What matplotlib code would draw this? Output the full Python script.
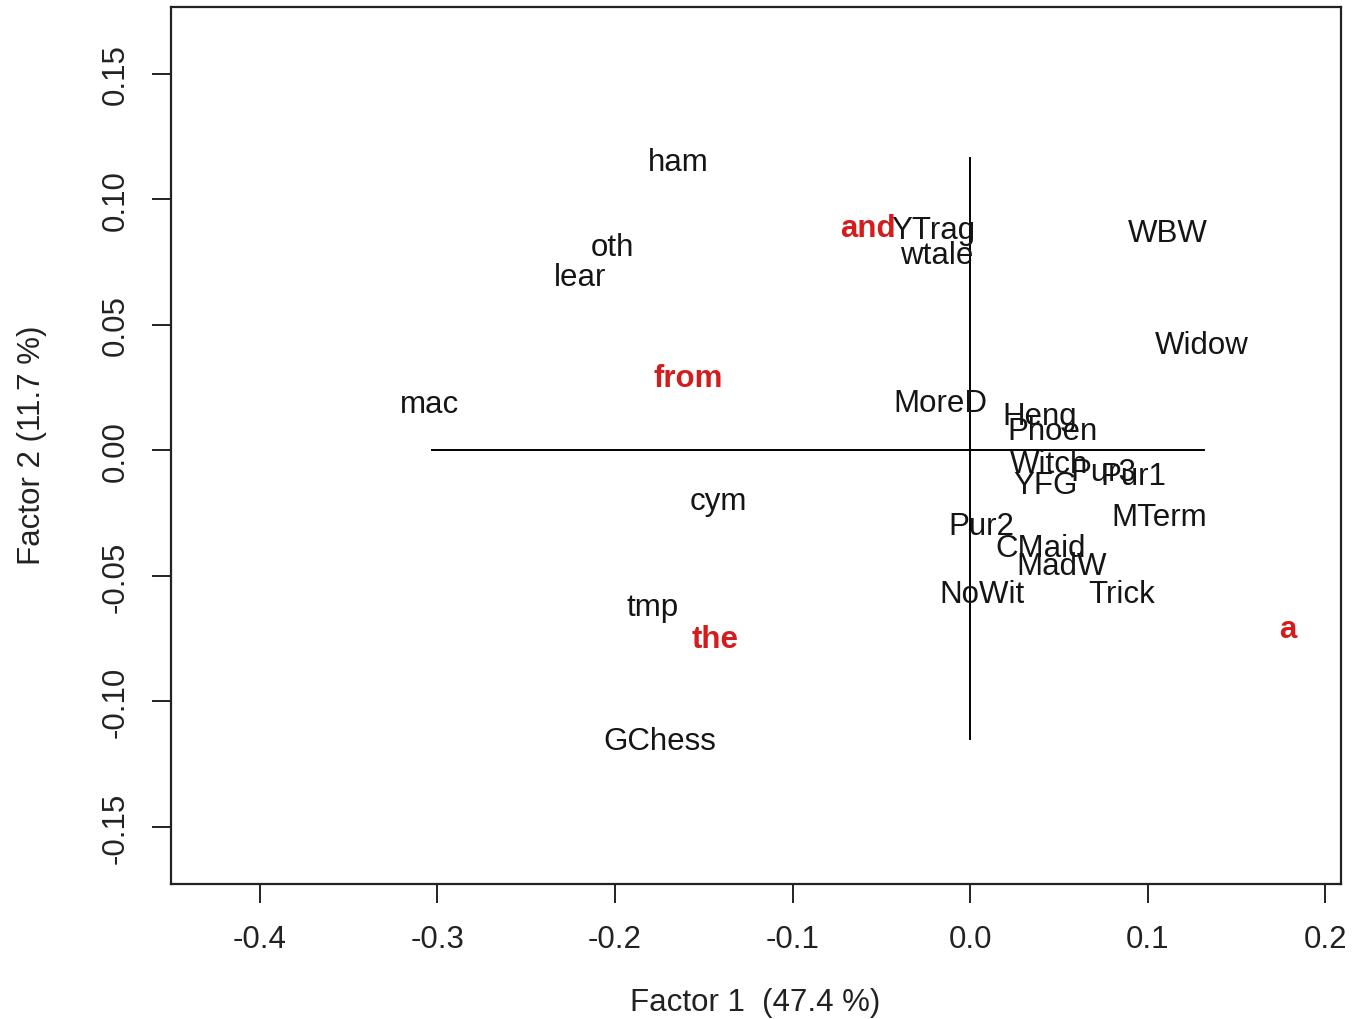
"""Correspondence analysis map: texts and function words."""

import matplotlib.pyplot as plt

# Texts (row points)
texts = ["ham", "oth", "lear", "mac", "cym", "tmp", "GChess", "YTrag", "wtale",
         "WBW", "Widow", "MoreD", "Heng", "Phoen", "Witch", "Pur3", "Pur1",
         "YFG", "MTerm", "Pur2", "CMaid", "MadW", "NoWit", "Trick"]
texts_x = [-0.1645, -0.2017, -0.2197, -0.3042, -0.142, -0.1786, -0.1746, -0.0208, -0.0189,
           0.1115, 0.1307, -0.0169, 0.0394, 0.0462, 0.0445, 0.075, 0.0918,
           0.0423, 0.1065, 0.0062, 0.040, 0.0518, 0.0068, 0.0856]
texts_y = [0.1165, 0.0825, 0.0705, 0.0198, -0.0187, -0.0610, -0.1145, 0.0892, 0.0791,
           0.0882, 0.0436, 0.0203, 0.0150, 0.0090, -0.0040, -0.0070, -0.0086,
           -0.0125, -0.0250, -0.0285, -0.0376, -0.0448, -0.0557, -0.0557]

# Function words (column points)
words = ["and", "from", "the", "a"]
words_x = [-0.0577, -0.1589, -0.1437, 0.1792]
words_y = [0.0902, 0.0301, -0.0739, -0.0696]

# Extent of the cross through the origin
cross_x = [-0.303, 0.132]
cross_y = [-0.115, 0.1167]

plt.rcParams["font.family"] = ["Liberation Sans", "DejaVu Sans"]
fs = 22.5

fig = plt.figure(figsize=(13.52, 10.2), dpi=100)
ax = fig.add_axes([0.1265, 0.1324, 0.8654, 0.8598])

# Cross through the origin
ax.plot(cross_x, [0, 0], color="black", linewidth=1.4)
ax.plot([0, 0], cross_y, color="black", linewidth=1.4)

for name, x, y in zip(texts, texts_x, texts_y):
    ax.text(x, y, name, ha="center", va="center_baseline", fontsize=fs, color="#151515")

for name, x, y in zip(words, words_x, words_y):
    ax.text(x, y, name, ha="center", va="center_baseline", fontsize=fs,
            color="#d41c1c", fontweight="bold")

# Tidy up
ax.set_xlim(-0.4501, 0.2090)
ax.set_ylim(-0.1727, 0.1767)
ax.set_xticks([-0.4, -0.3, -0.2, -0.1, 0.0, 0.1, 0.2])
ax.set_xticklabels(["-0.4", "-0.3", "-0.2", "-0.1", "0.0", "0.1", "0.2"])
ax.set_yticks([-0.15, -0.10, -0.05, 0.0, 0.05, 0.10, 0.15])
ax.set_yticklabels(["-0.15", "-0.10", "-0.05", "0.00", "0.05", "0.10", "0.15"],
                   rotation=90, va="center")
ax.tick_params(axis="both", direction="out", length=14, width=1.4,
               labelsize=fs, colors="#222222", pad=15)
for spine in ax.spines.values():
    spine.set_linewidth(1.6)
    spine.set_color("#222222")

fig.text(0.5585, 1 - 1003 / 1020, "Factor 1  (47.4 %)", ha="center", va="center",
         fontsize=fs, color="#222222")
fig.text(32 / 1352, 1 - 445 / 1020, "Factor 2 (11.7 %)", ha="center", va="center",
         rotation=90, fontsize=fs, color="#222222")

plt.savefig("out.png")
plt.close()
